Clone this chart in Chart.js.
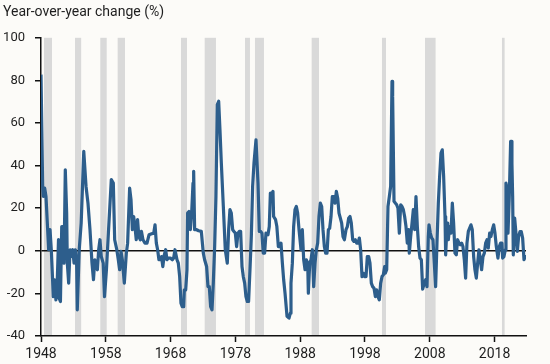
<!DOCTYPE html>
<html>
<head>
<meta charset="utf-8">
<script src="https://cdn.jsdelivr.net/npm/chart.js@4.4.1/dist/chart.umd.min.js"></script>
<style>
  html, body { margin: 0; padding: 0; background: #fcfbf8; }
  #wrap { width: 550px; height: 364px; }
</style>
</head>
<body>
<div id="wrap"><canvas id="myChart" width="550" height="364"></canvas></div>
<script>
// quarter positions on the time axis (decimal years) and year-over-year change, %
const quarters = [
  1948.0, 1948.26, 1948.36, 1948.57, 1948.77, 1949.18, 1949.39, 1949.59, 1949.9, 1950.1,
  1950.3, 1950.5, 1950.7, 1950.8, 1951.0, 1951.2, 1951.45, 1951.55, 1951.75, 1951.96,
  1952.06, 1952.27, 1952.48, 1952.68, 1952.9, 1953.1, 1953.3, 1953.5, 1953.6, 1953.9,
  1954.2, 1954.6, 1954.95, 1955.25, 1955.56, 1955.87, 1956.1, 1956.3, 1956.5, 1956.7,
  1956.9, 1957.1, 1957.3, 1957.6, 1957.8, 1958.1, 1958.4, 1958.85, 1959.16, 1959.37,
  1959.7, 1959.93, 1960.14, 1960.35, 1960.55, 1960.86, 1961.17, 1961.37, 1961.68, 1961.89,
  1962.1, 1962.3, 1962.5, 1962.7, 1962.9, 1963.1, 1963.33, 1963.5, 1963.74, 1964.05,
  1964.36, 1964.67, 1965.08, 1965.4, 1965.6, 1965.8, 1966.0, 1966.2, 1966.4, 1966.6,
  1966.8, 1967.03, 1967.24, 1967.44, 1967.65, 1967.96, 1968.27, 1968.47, 1968.68, 1968.99,
  1969.19, 1969.4, 1969.6, 1969.8, 1970.02, 1970.12, 1970.33, 1970.53, 1970.63, 1970.84,
  1971.05, 1971.25, 1971.46, 1971.56, 1971.71, 1972.02, 1972.33, 1972.74, 1973.05, 1973.25,
  1973.56, 1973.77, 1973.97, 1974.18, 1974.39, 1974.59, 1974.8, 1975.0, 1975.21, 1975.42,
  1975.62, 1975.83, 1976.14, 1976.44, 1976.75, 1976.96, 1977.16, 1977.37, 1977.58, 1977.78,
  1977.99, 1978.19, 1978.4, 1978.6, 1978.81, 1979.02, 1979.22, 1979.43, 1979.63, 1979.84,
  1980.04, 1980.25, 1980.46, 1980.66, 1980.87, 1981.18, 1981.49, 1981.69, 1981.9, 1982.1,
  1982.3, 1982.51, 1982.72, 1983.03, 1983.23, 1983.4, 1983.6, 1983.8, 1983.9, 1984.2,
  1984.4, 1984.63, 1984.84, 1985.04, 1985.25, 1985.45, 1985.66, 1985.97, 1986.28, 1986.48,
  1986.58, 1986.79, 1986.99, 1987.2, 1987.41, 1987.61, 1987.82, 1988.13, 1988.33, 1988.54,
  1988.75, 1988.95, 1989.16, 1989.26, 1989.47, 1989.67, 1989.88, 1990.08, 1990.29, 1990.49,
  1990.7, 1990.9, 1991.11, 1991.32, 1991.52, 1991.73, 1991.93, 1992.14, 1992.35, 1992.55,
  1992.76, 1992.96, 1993.17, 1993.38, 1993.58, 1993.79, 1993.99, 1994.2, 1994.4, 1994.61,
  1994.82, 1995.07, 1995.28, 1995.48, 1995.69, 1995.89, 1996.1, 1996.3, 1996.51, 1996.72,
  1996.92, 1997.13, 1997.33, 1997.54, 1997.74, 1997.95, 1998.16, 1998.36, 1998.57, 1998.77,
  1998.98, 1999.18, 1999.39, 1999.6, 1999.8, 2000.01, 2000.21, 2000.42, 2000.63, 2000.83,
  2001.04, 2001.14, 2001.35, 2001.55, 2001.76, 2001.96, 2002.17, 2002.27, 2002.48, 2002.68,
  2002.89, 2003.09, 2003.3, 2003.51, 2003.71, 2003.92, 2004.12, 2004.33, 2004.53, 2004.74,
  2004.84, 2005.05, 2005.26, 2005.46, 2005.67, 2005.87, 2006.08, 2006.28, 2006.49, 2006.7,
  2006.9, 2007.16, 2007.36, 2007.57, 2007.77, 2007.88, 2008.08, 2008.29, 2008.49, 2008.7,
  2008.9, 2009.11, 2009.32, 2009.52, 2009.73, 2009.93, 2010.14, 2010.35, 2010.45, 2010.65,
  2010.76, 2010.86, 2011.07, 2011.27, 2011.48, 2011.68, 2011.89, 2012.09, 2012.3, 2012.51,
  2012.71, 2012.92, 2013.12, 2013.33, 2013.53, 2013.74, 2013.95, 2014.15, 2014.36, 2014.56,
  2014.77, 2014.97, 2015.18, 2015.39, 2015.59, 2015.8, 2016.0, 2016.21, 2016.42, 2016.62,
  2016.83, 2017.03, 2017.24, 2017.44, 2017.65, 2017.86, 2018.06, 2018.27, 2018.52, 2018.73,
  2018.93, 2019.14, 2019.24, 2019.45, 2019.66, 2019.76, 2019.96, 2020.07, 2020.27, 2020.48,
  2020.58, 2020.68, 2020.79, 2020.89, 2021.1, 2021.3, 2021.51, 2021.71, 2021.92, 2022.12,
  2022.33, 2022.54, 2022.74, 2022.85
];
const yoyChange = [
  82.7, 30, 25.5, 29.4, 25.5, 0.5, 9.9, 0.5, -21.5, -13.6,
  -23, -15.2, 5.2, -22.2, -23.8, 11.4, 11.4, -5.8, 38, 17.7,
  -5.8, -15.2, 0.5, -2.7, 0.5, -5.8, 0.5, -5.8, -27.7, 0.5,
  13, 46.7, 30.2, 22.4, 9.9, -5.8, -13.6, -4.2, -5.8, -8.9,
  0.5, 5.2, -2.7, -5.8, -21.5, -8.9, 8.3, 33.4, 31.8, 5.2,
  0.5, -4.2, -8.9, -0.3, -4.2, -15.2, -1.1, 3.6, 29.4, 24,
  9.9, 16.1, 11.4, 5.2, 14.6, 6.7, 5.2, 9.1, 5.2, 3.6,
  3.6, 7.5, 8, 8.3, 12.2, 3.6, 0.5, -4.2, -4.2, -2.7,
  -7.4, -1.9, 0.5, -4.2, -3.4, -3.4, -4.2, -3.4, 0.5, -4.2,
  -5.8, -12.1, -24.6, -26.2, -26.2, -18.3, -18.3, -8.9, 17.7, 18.5,
  9.9, 17.7, 31.8, 37.3, 9.9, 9.9, 9.4, 9.1, -1.1, -4.2,
  -7.4, -16.8, -16.8, -26.2, -27.7, -15.2, 2, 25.5, 68.6, 70.2,
  56.8, 41.2, 20.8, 0.5, -5.8, 9.9, 19.3, 17.7, 9.9, 9.1,
  8.3, 2, 8.3, 9.1, 9.1, -7.4, -12.1, -15.2, -21.5, -23.8,
  -23.8, -8.9, 6.7, 30.2, 41.2, 52.1, 31.8, 9.1, 9.1, 8.3,
  -1.1, -1.1, 8.3, 7.5, 11.4, 27.1, 26.3, 27.9, 16.1, 14.6,
  11.4, 2, 2, 3.6, -5.8, -13.6, -19.9, -30.8, -31.6, -29.3,
  -15.2, -5.8, 11.4, 19.3, 20.8, 17.7, 9.9, 0.5, 9.9, -4.2,
  -8.9, -4.2, -5.8, -19.9, -5.8, -4.2, 0.5, -16.8, -5.8, 0.5,
  3.6, 16.1, 22.4, 20.8, 9.9, 2, -1.1, -1.1, 9.9, 10.6,
  16.1, 25.5, 25.5, 22.4, 27.9, 24.7, 17.7, 15.3, 13, 6.7,
  5.2, 9.9, 11.4, 15.3, 16.1, 13, 5.2, 4.4, 5.2, 3.6,
  3.6, 6, 0.5, -12.1, -10.5, -12.1, -12.1, -2.7, -2.7, -5.8,
  -15.2, -16.8, -17.5, -21.5, -18.3, -21.5, -23, -15.2, -12.1, -11.3,
  -7.4, -10.5, -8.9, 20.8, 25.5, 30.2, 79.5, 72.5, 23.2, 22.4,
  21.6, 20, 8.3, 21.6, 20.8, 19.3, 16.1, 11.4, 3.6, 9.9,
  -1.1, 6.7, 13, 19.3, 9.9, 25.5, 11.4, 2, -3.4, -4.2,
  -18, -15.2, -13.6, -16.8, 6.7, 12.2, 8.3, 6, 5.2, -5.8,
  -16.8, 3.6, 22.4, 34.9, 45.9, 47.4, 34.9, 16.1, -1.9, 11.4,
  13, 5.2, 11.4, 8.3, 22.4, 13, -1.1, -1.9, 5.2, 3.6,
  2.8, 3.6, 2, -4.2, -12.8, 3.6, 9.1, 10.6, 12.2, 9.9,
  -2.7, -8.9, -12.8, -5.8, 0.5, -4.2, -8.9, -2.7, -1.1, 3.6,
  5.2, 1.3, 8.3, 6.7, 9.9, 12.2, 8.3, 2, -3.4, 2,
  3.6, 3.6, -3.4, -2.7, 0.5, 31.8, 28.7, 8.3, 25.5, 51.4,
  51.4, 41, 25.5, -1.9, 15.3, 8.3, -0.3, 6.7, 9, 9,
  6, -4.2, -2.7, -2.7
];

// recession shading, same time axis
const recessionStart = [1948.46, 1953.25, 1957.15, 1959.83, 1969.6, 1973.26, 1979.48, 1981.02, 1989.77, 2000.62, 2007.26, 2019.14];
const recessionEnd   = [1949.7, 1954.2, 1958.14, 1960.96, 1970.53, 1975.0, 1980.25, 1982.41, 1990.9, 2001.24, 2008.9, 2019.55];

const xTickYears = [1948, 1958, 1968, 1978, 1988, 1998, 2008, 2018];
const yTicks = [-40, -20, 0, 20, 40, 60, 80, 100];

Chart.defaults.font.family = 'Roboto, sans-serif';
Chart.defaults.color = '#1e1e1e';

const backdrop = {
  id: 'backdrop',
  beforeDraw(chart) {
    const c = chart.ctx;
    const area = chart.chartArea;
    const x = chart.scales.x;
    c.save();
    c.fillStyle = '#fcfbf8';
    c.fillRect(0, 0, chart.width, chart.height);
    c.fillStyle = '#d9d9d9';
    recessionStart.forEach((s, i) => {
      const x0 = x.getPixelForValue(s);
      const x1 = x.getPixelForValue(recessionEnd[i]);
      c.fillRect(x0, area.top, x1 - x0, area.bottom - area.top);
    });
    c.restore();
  }
};

const ctx = document.getElementById('myChart').getContext('2d');
const myChart = new Chart(ctx, {
  type: 'line',
  data: {
    datasets: [
      {
        label: 'Year-over-year change',
        data: quarters.map((q, i) => ({ x: q, y: yoyChange[i] })),
        borderColor: '#2d5e8c',
        borderWidth: 3.2,
        pointRadius: 0,
        tension: 0,
        borderJoinStyle: 'round',
        fill: false,
      },
    ],
  },
  options: {
    responsive: false,
    animation: false,
    devicePixelRatio: 1,
    layout: { padding: { left: 3, right: 24, top: 0, bottom: 0 } },
    plugins: {
      legend: { display: false },
      tooltip: { enabled: false },
      title: {
        display: true,
        text: 'Year-over-year change (%)',
        align: 'start',
        color: '#1e1e1e',
        font: { size: 14, weight: 'normal' },
        padding: { top: 4, bottom: 17 },
      },
    },
    scales: {
      x: {
        type: 'linear',
        min: 1948,
        max: 2022.85,
        afterBuildTicks: (scale) => {
          scale.ticks = xTickYears.map((v) => ({ value: v }));
        },
        afterFit: (scale) => {
          scale.height = 28;
        },
        ticks: {
          callback: (v) => String(v),
          font: { size: 14 },
          padding: 4,
          maxRotation: 0,
          autoSkip: false,
        },
        grid: {
          drawOnChartArea: false,
          tickLength: 6,
          tickColor: '#111',
          tickWidth: 1.5,
        },
        border: { color: '#111', width: 1.5 },
      },
      y: {
        min: -40,
        max: 100,
        afterBuildTicks: (scale) => {
          scale.ticks = yTicks.map((v) => ({ value: v }));
        },
        afterFit: (scale) => {
          scale.width = 38;
        },
        ticks: {
          font: { size: 13 },
          padding: 10,
        },
        grid: {
          color: (c) => (c.tick && c.tick.value === 0 ? '#111' : 'rgba(0,0,0,0)'),
          lineWidth: 1.5,
          tickLength: 6,
          tickColor: '#111',
          tickWidth: 1.5,
        },
        border: { color: '#111', width: 1.5 },
      },
    },
  },
  plugins: [backdrop],
});
</script>
</body>
</html>
